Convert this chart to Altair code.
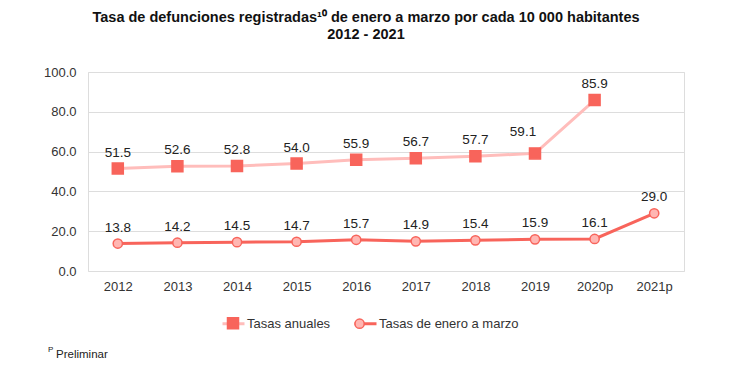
import altair as alt
import pandas as pd

years = ["2012", "2013", "2014", "2015", "2016", "2017", "2018", "2019", "2020p", "2021p"]
anuales = [51.5, 52.6, 52.8, 54.0, 55.9, 56.7, 57.7, 59.1, 85.9, None]
enero = [13.8, 14.2, 14.5, 14.7, 15.7, 14.9, 15.4, 15.9, 16.1, 29.0]
series = ["Tasas anuales", "Tasas de enero a marzo"]
line_keys = ["a", "b"]
y_ticks = [0, 20, 40, 60, 80, 100]

CORAL = "#F8645B"
PINK_LINE = "#FFBDBB"
PINK_FILL = "#FFB6B2"
FONT = "Liberation Sans"

rows = []
for yr, v in zip(years, anuales):
    if v is not None:
        rows.append({"year": yr, "value": v, "serie": series[0], "linea": line_keys[0]})
for yr, v in zip(years, enero):
    if v is not None:
        rows.append({"year": yr, "value": v, "serie": series[1], "linea": line_keys[1]})
df = pd.DataFrame(rows)

SQUARE = "M-0.5,-0.5H0.5V0.5H-0.5Z"
CIRCLE = "M0.42,0A0.42,0.42 0 1,1 -0.42,0A0.42,0.42 0 1,1 0.42,0Z"

x_enc = alt.X("year:N", sort=years, title=None,
              axis=alt.Axis(labelAngle=0, domain=False, ticks=False, grid=False,
                            labelPadding=9, labelFontSize=13, labelColor="#333333", labelFont=FONT))
y_enc = alt.Y("value:Q", title=None,
              scale=alt.Scale(domain=[0, 100], nice=False),
              axis=alt.Axis(values=y_ticks, format=".1f", domain=False, ticks=False,
                            labelPadding=12, labelFontSize=13, labelColor="#333333", labelFont=FONT,
                            gridColor="#DDDDDD", gridWidth=1))

base = alt.Chart(df)

label_expr = f"datum.value == 'a' ? '{series[0]}' : '{series[1]}'"

LEG_X, LEG_Y = 133, 239

lines = base.mark_line(strokeWidth=3).encode(
    x=x_enc, y=y_enc,
    stroke=alt.Stroke("linea:N", sort=line_keys,
                      scale=alt.Scale(domain=line_keys, range=[PINK_LINE, CORAL]),
                      legend=alt.Legend(title=None, orient="none", direction="horizontal",
                                        legendX=LEG_X, legendY=LEG_Y, symbolType="stroke",
                                        symbolSize=484, symbolStrokeWidth=3,
                                        labelExpr=label_expr,
                                        labelFontSize=13, labelFont=FONT, labelColor="#333333",
                                        labelOffset=1, columnPadding=17, zindex=1)),
)

points = base.mark_point(filled=True, opacity=1, stroke=CORAL, strokeWidth=1.5, size=484).encode(
    x=x_enc, y=y_enc,
    fill=alt.Fill("serie:N", sort=series,
                  scale=alt.Scale(domain=series, range=[CORAL, PINK_FILL]),
                  legend=alt.Legend(title=None, orient="none", direction="horizontal",
                                    legendX=LEG_X, legendY=LEG_Y,
                                    symbolSize=484, symbolStrokeWidth=1.5, symbolStrokeColor=CORAL,
                                    labelExpr="''", labelFontSize=13, labelFont=FONT,
                                    labelOffset=1, columnPadding=101.6, zindex=2)),
    shape=alt.Shape("serie:N", sort=series,
                    scale=alt.Scale(domain=series, range=[SQUARE, CIRCLE])),
)

labels_main = base.transform_filter(
    ~((alt.datum.serie == series[0]) & (alt.datum.year == "2019"))
).mark_text(dy=-16, fontSize=13.5, font=FONT, color="#222222").encode(
    x=x_enc, y=y_enc, text=alt.Text("value:Q", format=".1f"))

labels_shift = base.transform_filter(
    (alt.datum.serie == series[0]) & (alt.datum.year == "2019")
).mark_text(dy=-21, dx=-12, fontSize=13.5, font=FONT, color="#222222").encode(
    x=x_enc, y=y_enc, text=alt.Text("value:Q", format=".1f"))

foot_df = pd.DataFrame({"t": ["Preliminar"], "s": ["P"]})
foot_p = alt.Chart(foot_df).mark_text(align="left", fontSize=8, font=FONT, color="#222222").encode(
    x=alt.value(-40), y=alt.value(278), text="s:N")
foot_t = alt.Chart(foot_df).mark_text(align="left", fontSize=11.5, font=FONT, color="#222222").encode(
    x=alt.value(-32), y=alt.value(283), text="t:N")

chart = alt.layer(lines, points, labels_main, labels_shift, foot_p, foot_t).properties(
    width=596, height=199,
    autosize=alt.AutoSizeParams(type="none"),
    padding={"left": 80, "top": 64, "right": 42, "bottom": 100},
    title=alt.Title(
        text=["Tasa de defunciones registradas\u00b9\u2070 de enero a marzo por cada 10 000 habitantes",
              "2012 - 2021"],
        anchor="middle", dx=-20, offset=24, fontSize=14.5, fontWeight="bold",
        font=FONT, color="#111111", lineHeight=17),
).resolve_scale(fill="independent", stroke="independent", shape="independent"
).configure_view(stroke=None).configure(background="white")

chart.save("out.html", embed_options={"renderer": "svg", "actions": False})
